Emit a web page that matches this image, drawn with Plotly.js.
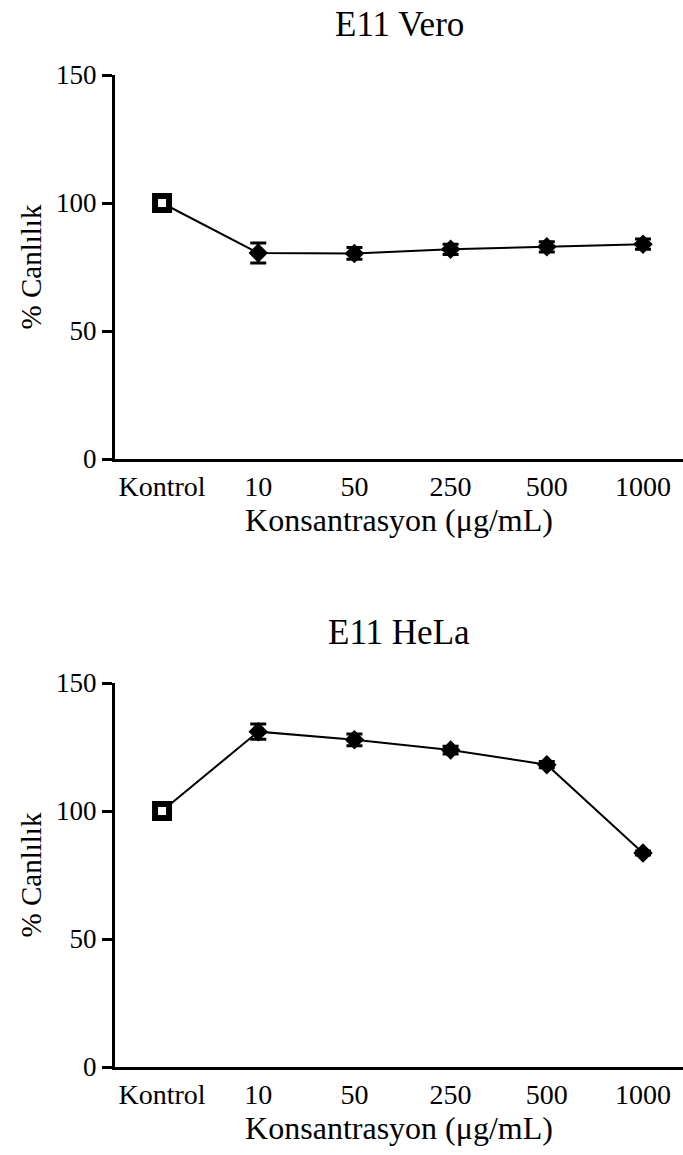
<!DOCTYPE html>
<html>
<head>
<meta charset="utf-8">
<script src="https://cdn.plot.ly/plotly-3.0.1.min.js"></script>
<style>html,body{margin:0;padding:0;background:#fff;}#chart{width:683px;height:1155px;}</style>
</head>
<body>
<div id="chart"></div>
<script>
const categories = ["Kontrol", "10", "50", "250", "500", "1000"];
const veroValues = [100, 80.5, 80.3, 81.9, 82.9, 83.9];
const veroErrors = [0, 3.9, 2.3, 2.0, 2.0, 2.0];
const helaValues = [100, 131, 127.8, 123.8, 118.1, 83.6];
const helaErrors = [0, 3.0, 2.3, 1.5, 1.2, 0.8];
const yTicks = [0, 50, 100, 150];
const panelTitles = ["E11 Vero", "E11 HeLa"];
const xTitle = "Konsantrasyon (μg/mL)";
const yTitle = "% Canlılık";

const FONT = "Liberation Serif, Times New Roman, serif";
const symbols = categories.map((c, i) => i === 0 ? "square" : "diamond");
const sizes = categories.map((c, i) => i === 0 ? 14 : 15);
const fills = categories.map((c, i) => i === 0 ? "#fff" : "#000");
const lws = categories.map((c, i) => i === 0 ? 6 : 0);

function trace(vals, errs, xa, ya) {
  return {
    type: "scatter", mode: "lines+markers",
    x: categories, y: vals, xaxis: xa, yaxis: ya,
    line: {color: "#000", width: 2},
    marker: {symbol: symbols, size: sizes, color: fills, opacity: 1, line: {color: "#000", width: lws}},
    error_y: {type: "data", array: errs, visible: true, color: "#000", thickness: 3, width: 8},
    showlegend: false, hoverinfo: "skip"
  };
}

function xaxis(anchor) {
  return {
    type: "category", categoryorder: "array", categoryarray: categories,
    range: [-0.489, 5.416], domain: [0, 1], anchor: anchor,
    showline: true, linecolor: "#000", linewidth: 3, showgrid: false, zeroline: false,
    ticks: "", tickfont: {family: FONT, size: 28, color: "#000"},
    ticklabelstandoff: 0,
    title: {text: xTitle, font: {family: FONT, size: 32, color: "#000"}, standoff: 0}
  };
}
function yaxis(anchor, domain) {
  return {
    range: [0, 150], domain: domain, anchor: anchor,
    tickvals: yTicks, ticktext: yTicks.map(String),
    showline: true, linecolor: "#000", linewidth: 3, showgrid: false, zeroline: false,
    ticks: "outside", ticklen: 10, tickwidth: 3, tickcolor: "#000",
    tickfont: {family: FONT, size: 27, color: "#000"},
    title: {text: yTitle, font: {family: FONT, size: 29, color: "#000"}, standoff: 6}
  };
}

const H = 1155;
const topDom = [1 - 459 / H, 1 - 75 / H];
const botDom = [1 - 1067 / H, 1 - 683 / H];

const layout = {
  width: 683, height: 1155,
  margin: {l: 115, r: 0, t: 0, b: 0},
  paper_bgcolor: "#fff", plot_bgcolor: "#fff",
  xaxis: xaxis("y"), yaxis: yaxis("x", topDom),
  xaxis2: xaxis("y2"), yaxis2: yaxis("x2", botDom),
  annotations: [
    {text: panelTitles[0], xref: "paper", yref: "paper", x: 0.5, y: 1 - 24 / H, yanchor: "middle", showarrow: false, font: {family: FONT, size: 35, color: "#000"}},
    {text: panelTitles[1], xref: "paper", yref: "paper", x: 0.5, y: 1 - 632 / H, yanchor: "middle", showarrow: false, font: {family: FONT, size: 35, color: "#000"}}
  ]
};

Plotly.newPlot("chart", [trace(veroValues, veroErrors, "x", "y"), trace(helaValues, helaErrors, "x2", "y2")], layout, {displayModeBar: false, staticPlot: true});
</script>
</body>
</html>
